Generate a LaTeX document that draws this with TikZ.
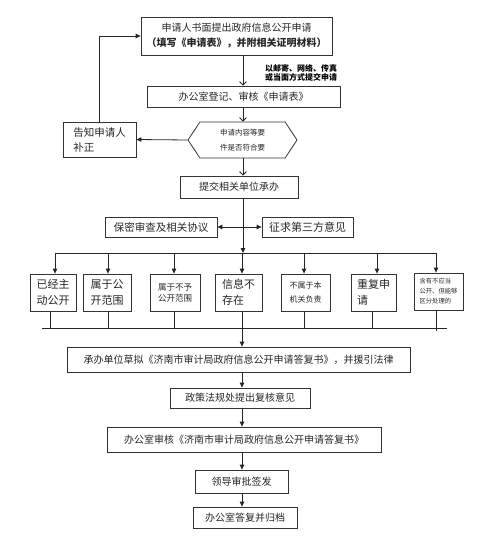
\documentclass[tikz,border=0pt]{standalone}
\usepackage{fontspec}
\setmainfont{Noto Sans CJK SC}
\usetikzlibrary{arrows.meta,shapes.symbols}
\begin{document}
\begin{tikzpicture}[x=1pt,y=-1pt,
  box/.style={draw=black!80, line width=0.8pt, inner sep=0pt, align=center, text=black!85, font=\fontsize{10}{12}\selectfont},
  ln/.style={draw=black!85, line width=0.8pt},
  arr/.style={ln, -{Triangle[length=5pt,width=4.5pt]}},
  varr/.style={ln, -{Straight Barb[length=3.5pt,width=7pt]}},
  kid/.style={box, minimum height=37pt, align=left}]
\useasboundingbox (0,0) rectangle (479,543);
\coordinate (ax) at (243,0);

\node[box, minimum width=191pt, minimum height=38pt, font=\fontsize{10}{15}\selectfont] (b1) at (236.5,36)
  {申请人书面提出政府信息公开申请\\{\bfseries （填写《申请表》，并附相关证明材料）}};
\node[box, minimum width=193pt, minimum height=21pt] (b2) at (243.5,96.5) {办公室登记、审核《申请表》};
\node[text=black, font=\bfseries\fontsize{8}{9.5}\selectfont, align=left, inner sep=0pt] (lab) at (301,73)
  {以邮寄、网络、传真\\或当面方式提交申请};
\node[box, shape=signal, signal to=west and east, signal pointer angle=113,
  minimum width=109pt, minimum height=36pt, font=\fontsize{7.5}{15}\selectfont] (hx) at (242.5,140)
  {申请内容等要\\件是否符合要};
\node[box, minimum width=73pt, minimum height=35pt, align=left, font=\fontsize{10.5}{15}\selectfont] (gz) at (99.5,139.5)
  {告知申请人\\补正};
\node[box, minimum width=118pt, minimum height=22pt] (tj) at (239,187) {提交相关单位承办};
\node[box, minimum width=112pt, minimum height=20pt, font=\fontsize{10.5}{12}\selectfont] (bm) at (161,227) {保密审查及相关协议};
\node[box, minimum width=91pt, minimum height=20pt, font=\fontsize{11}{12}\selectfont] (zq) at (307.5,227) {征求第三方意见};

\node[kid, minimum width=46pt, font=\fontsize{11}{16}\selectfont] (c1) at (53,292.5) {已经主\\动公开};
\node[kid, minimum width=48pt, font=\fontsize{11}{16}\selectfont] (c2) at (107,292.5) {属于公\\开范围};
\node[kid, minimum width=50pt, font=\fontsize{8.5}{11}\selectfont] (c3) at (175,292.5) {属于不予\\公开范围};
\node[kid, minimum width=47pt, font=\fontsize{11}{16}\selectfont] (c4) at (238.5,292.5) {信息不\\存在};
\node[kid, minimum width=49pt, font=\fontsize{8}{14}\selectfont] (c5) at (305.5,292.5) {不属于本\\机关负责};
\node[kid, minimum width=45pt, font=\fontsize{11}{16}\selectfont] (c6) at (373.5,292.5) {重复申\\请};
\node[kid, minimum width=49pt, minimum height=37pt, font=\fontsize{6.3}{10}\selectfont] (c7) at (438.5,291.5) {含有不应当\\公开、但能够\\区分处理的};

\node[box, minimum width=343pt, minimum height=25pt] (cb) at (238.5,359.5) {承办单位草拟《济南市审计局政府信息公开申请答复书》，并援引法律};
\node[box, minimum width=140pt, minimum height=20pt] (zc) at (240,398) {政策法规处提出复核意见};
\node[box, minimum width=274pt, minimum height=25pt] (sh) at (244,439.5) {办公室审核《济南市审计局政府信息公开申请答复书》};
\node[box, minimum width=93pt, minimum height=23pt] (ld) at (241.5,481.5) {领导审批签发};
\node[box, minimum width=104pt, minimum height=21pt] (gd) at (245,517.5) {办公室答复并归档};

% top flow
\draw[varr] (b1.south -| ax) -- (b2.north -| ax);
\draw[varr] (b2.south -| ax) -- (hx.north -| ax);
\draw[varr] (hx.south -| ax) -- (tj.north -| ax);
\draw[arr] (hx.west) -- (gz.east);
\draw[arr] (gz.north) |- (b1.west);

% branch
\coordinate (brl) at (55,253);
\coordinate (brr) at (436,253);
\draw[ln] (brl) -- (brr);
\draw[arr] (tj.south -| ax) -- (ax |- brl);
\draw[ln, {Triangle[length=5pt,width=4.5pt]}-{Triangle[length=5pt,width=4.5pt]}] (bm.east) -- (zq.west);
\coordinate (a1) at (55,253);
\coordinate (a2) at (108,253);
\coordinate (a3) at (174,253);
\coordinate (a4) at (242,253);
\coordinate (a5) at (304,253);
\coordinate (a6) at (377,253);
\coordinate (a7) at (436,253);
\draw[arr] (a1) -- (a1 |- c1.north);
\draw[arr] (a2) -- (a2 |- c2.north);
\draw[arr] (a3) -- (a3 |- c3.north);
\draw[arr] (a4) -- (a4 |- c4.north);
\draw[arr] (a5) -- (a5 |- c5.north);
\draw[arr] (a6) -- (a6 |- c6.north);
\draw[arr] (a7) -- (a7 |- c7.north);

% merge
\coordinate (bll) at (42,328);
\coordinate (blr) at (447,328);
\draw[ln] (bll) -- (blr);
\coordinate (d1) at (50,328);
\coordinate (d2) at (108,328);
\coordinate (d3) at (174,328);
\coordinate (d4) at (242,328);
\coordinate (d5) at (304,328);
\coordinate (d6) at (372,328);
\coordinate (d7) at (436,331);
\draw[ln] (d1 |- c1.south) -- (d1);
\draw[ln] (d2 |- c2.south) -- (d2);
\draw[ln] (d3 |- c3.south) -- (d3);
\draw[ln] (d4 |- c4.south) -- (d4);
\draw[ln] (d5 |- c5.south) -- (d5);
\draw[ln] (d6 |- c6.south) -- (d6);
\draw[ln] (d7 |- c7.south) -- (d7);

% bottom flow
\draw[arr] (d4) -- (d4 |- cb.north);
\draw[arr] (cb.south -| d4) -- (zc.north -| d4);
\draw[arr] (zc.south -| d4) -- (sh.north -| d4);
\draw[arr] (sh.south -| d4) -- (ld.north -| d4);
\draw[arr] (ld.south -| d4) -- (gd.north -| d4);
\end{tikzpicture}
\end{document}
